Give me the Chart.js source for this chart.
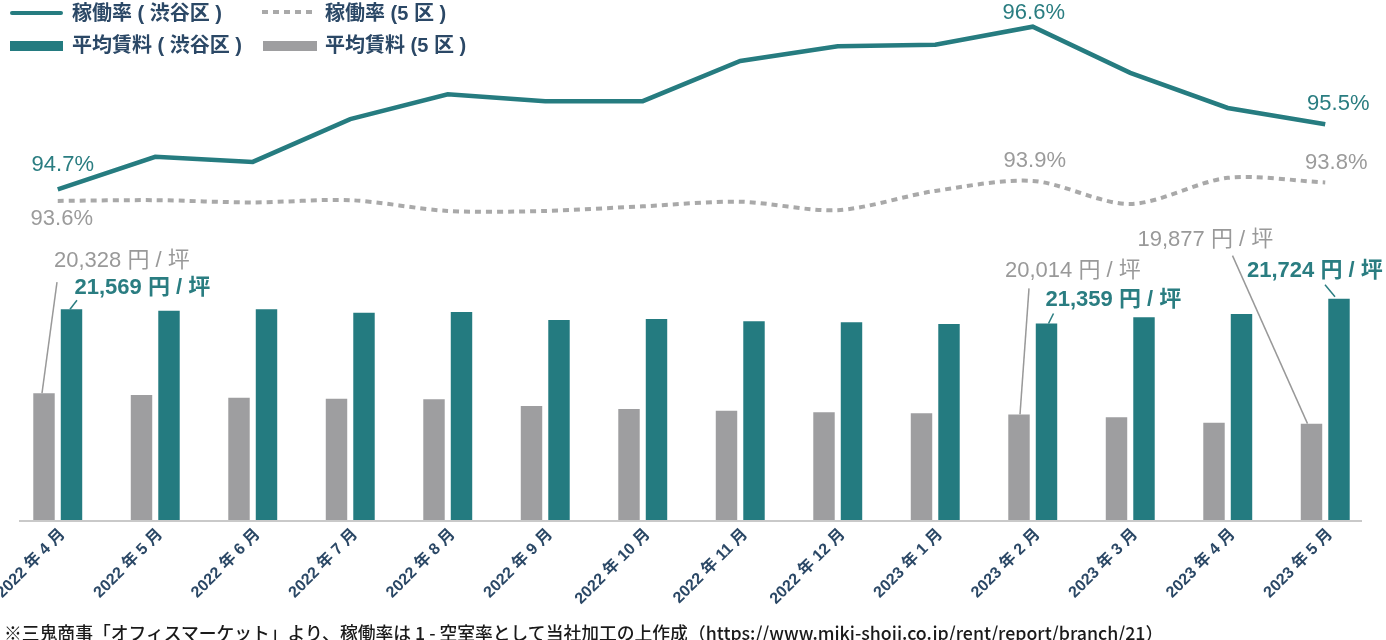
<!DOCTYPE html>
<html lang="ja">
<head>
<meta charset="utf-8">
<title>稼働率と平均賃料</title>
<script src="https://cdn.jsdelivr.net/npm/chart.js@4.4.0/dist/chart.umd.min.js"></script>
<style>
  body { margin: 0; background: #fff; }
  #wrap { position: relative; width: 1386px; height: 640px; font-family: 'Liberation Sans', 'Noto Sans CJK JP', sans-serif; }
  #chart { position: absolute; left: 0; top: 0; }
  .key { position: absolute; }
  .txt { position: absolute; font-size: 20px; font-weight: bold; color: #2b4866; line-height: 1; white-space: pre; }
  #note { position: absolute; left: 4px; top: 619px; font-size: 17.8px; font-weight: 500; color: #1a1a1a; white-space: pre; font-family: 'Noto Sans CJK JP', sans-serif; }
</style>
</head>
<body>
<div id="wrap">
  <canvas id="chart" width="1386" height="640"></canvas>
  <div class="key" style="left:10px;top:11px;width:53px;height:4px;border-radius:2px;background:#267c80"></div>
  <div class="txt" style="left:72px;top:3px">稼働率 ( 渋谷区 )</div>
  <div class="key" style="left:262px;top:10px;width:54px;height:4px;background:repeating-linear-gradient(90deg,#a9a9a9 0 6px,transparent 6px 11px)"></div>
  <div class="txt" style="left:325px;top:3px">稼働率 (5 区 )</div>
  <div class="key" style="left:10px;top:41px;width:53px;height:10px;background:#247b80"></div>
  <div class="txt" style="left:72px;top:35px">平均賃料 ( 渋谷区 )</div>
  <div class="key" style="left:263px;top:41px;width:54px;height:10px;background:#9e9ea0"></div>
  <div class="txt" style="left:325px;top:35px">平均賃料 (5 区 )</div>
  <div id="note">※三鬼商事「オフィスマーケット」より、稼働率は 1 - 空室率として当社加工の上作成（https://www.miki-shoji.co.jp/rent/report/branch/21）</div>
</div>
<script>
var months = ['2022 年 4 月', '2022 年 5 月', '2022 年 6 月', '2022 年 7 月', '2022 年 8 月', '2022 年 9 月', '2022 年 10 月',
              '2022 年 11 月', '2022 年 12 月', '2023 年 1 月', '2023 年 2 月', '2023 年 3 月', '2023 年 4 月', '2023 年 5 月'];

// 平均賃料 (円/坪)
var rent5 =       [20328, 20301, 20261, 20246, 20237, 20138, 20094, 20069, 20045, 20030, 20014, 19970, 19890, 19877];
var rentShibuya = [21569, 21549, 21569, 21519, 21529, 21411, 21426, 21392, 21377, 21352, 21359, 21451, 21500, 21724];

// 稼働率 (%)
var rateShibuya = [94.70, 95.08, 95.02, 95.52, 95.81, 95.73, 95.73, 96.20, 96.37, 96.39, 96.60, 96.06, 95.65, 95.46];
var rate5 =       [93.60, 93.61, 93.58, 93.61, 93.47, 93.47, 93.53, 93.59, 93.48, 93.73, 93.86, 93.56, 93.90, 93.84];

var teal = '#247b80', grey = '#9e9ea0', navy = '#2b4866';

// which points get a value label, and where it sits relative to the mark
var notes = [
  {ds: 2, i: 0,  dx: 5,  dy: -24, align: 'center', color: '#2a7d81', weight: 'normal'},
  {ds: 2, i: 10, dx: 1,  dy: -14, align: 'center', color: '#2a7d81', weight: 'normal'},
  {ds: 2, i: 13, dx: 13, dy: -20, align: 'center', color: '#2a7d81', weight: 'normal'},
  {ds: 3, i: 0,  dx: 4,  dy: 18,  align: 'center', color: '#9b9b9b', weight: 'normal'},
  {ds: 3, i: 10, dx: 2,  dy: -20, align: 'center', color: '#9b9b9b', weight: 'normal'},
  {ds: 3, i: 13, dx: 11, dy: -20, align: 'center', color: '#9b9b9b', weight: 'normal'},
  {ds: 0, i: 0,  dx: 10,   dy: -132, align: 'left', color: '#999999', weight: 'normal', line: [13, -111, -2, 0]},
  {ds: 1, i: 0,  dx: 3,    dy: -21,  align: 'left', color: '#2a7d81', weight: 'bold',   line: [5.5, -9, -1.5, 0]},
  {ds: 0, i: 10, dx: -14,  dy: -143, align: 'left', color: '#999999', weight: 'normal', line: [10, -126, 1, 0]},
  {ds: 1, i: 10, dx: -1,   dy: -24,  align: 'left', color: '#2a7d81', weight: 'bold',   line: [7, -10, 2, 0]},
  {ds: 0, i: 13, dx: -174, dy: -184, align: 'left', color: '#999999', weight: 'normal', line: [-79, -168, -4, 0]},
  {ds: 1, i: 13, dx: -92,  dy: -28,  align: 'left', color: '#2a7d81', weight: 'bold',   line: [-14, -14, -4, -2]}
];

function fmt(ds, v) {
  if (ds >= 2) return v.toFixed(1) + '%';
  return v.toLocaleString('en-US') + ' 円 / 坪';
}

var notePlugin = {
  id: 'notes',
  beforeDatasetsDraw: function(chart) {
    var ctx = chart.ctx, a = chart.chartArea;
    ctx.save();
    ctx.strokeStyle = '#c9c9c9';
    ctx.lineWidth = 2;
    ctx.beginPath();
    ctx.moveTo(a.left + 10, a.bottom + 1);
    ctx.lineTo(a.right - 12, a.bottom + 1);
    ctx.stroke();
    ctx.restore();
  },
  afterDatasetsDraw: function(chart) {
    var ctx = chart.ctx;
    ctx.save();
    notes.forEach(function(n) {
      var el = chart.getDatasetMeta(n.ds).data[n.i];
      var v = chart.data.datasets[n.ds].data[n.i];
      if (n.line) {
        ctx.strokeStyle = n.color;
        ctx.lineWidth = 1.5;
        ctx.beginPath();
        ctx.moveTo(el.x + n.line[0], el.y + n.line[1]);
        ctx.lineTo(el.x + n.line[2], el.y + n.line[3]);
        ctx.stroke();
      }
      ctx.fillStyle = n.color;
      ctx.font = n.weight + " 22px 'Liberation Sans', 'Noto Sans CJK JP', sans-serif";
      ctx.textAlign = n.align;
      ctx.textBaseline = 'middle';
      ctx.fillText(fmt(n.ds, v), el.x + n.dx, el.y + n.dy);
    });
    ctx.restore();
  }
};

new Chart(document.getElementById('chart'), {
  type: 'bar',
  data: {
    labels: months,
    datasets: [
      {label: '平均賃料 (5 区 )', data: rent5, backgroundColor: grey, yAxisID: 'yRent'},
      {label: '平均賃料 ( 渋谷区 )', data: rentShibuya, backgroundColor: teal, yAxisID: 'yRent'},
      {type: 'line', label: '稼働率 ( 渋谷区 )', data: rateShibuya,
       yAxisID: 'yRate', borderColor: '#267c80', borderWidth: 4.5, pointRadius: 0,
       tension: 0, fill: false},
      {type: 'line', label: '稼働率 (5 区 )', data: rate5,
       yAxisID: 'yRate5', borderColor: '#a9a9a9', borderWidth: 4, borderDash: [6, 5],
       pointRadius: 0, tension: 0.3, fill: false}
    ]
  },
  options: {
    responsive: false,
    animation: false,
    layout: {padding: {left: 9, right: 12, top: 20, bottom: 10}},
    datasets: {bar: {categoryPercentage: 0.564, barPercentage: 0.78}},
    plugins: {legend: {display: false}, tooltip: {enabled: false}},
    scales: {
      x: {
        grid: {display: false}, border: {display: false},
        ticks: {color: navy, font: {size: 16, weight: 'bold', family: "'Liberation Sans', 'Noto Sans CJK JP', sans-serif"},
                minRotation: 45, maxRotation: 45, autoSkip: false, padding: -3, labelOffset: 5},
        afterFit: function(s) { s.height = 110; s.paddingLeft = 0; s.paddingRight = 0; }
      },
      yRent: {display: false, min: 18451, max: 25851},
      yRate: {display: false, min: 90.836, max: 96.678},
      yRate5: {display: false, min: 89.452, max: 95.952}
    }
  },
  plugins: [notePlugin]
});
</script>
</body>
</html>
